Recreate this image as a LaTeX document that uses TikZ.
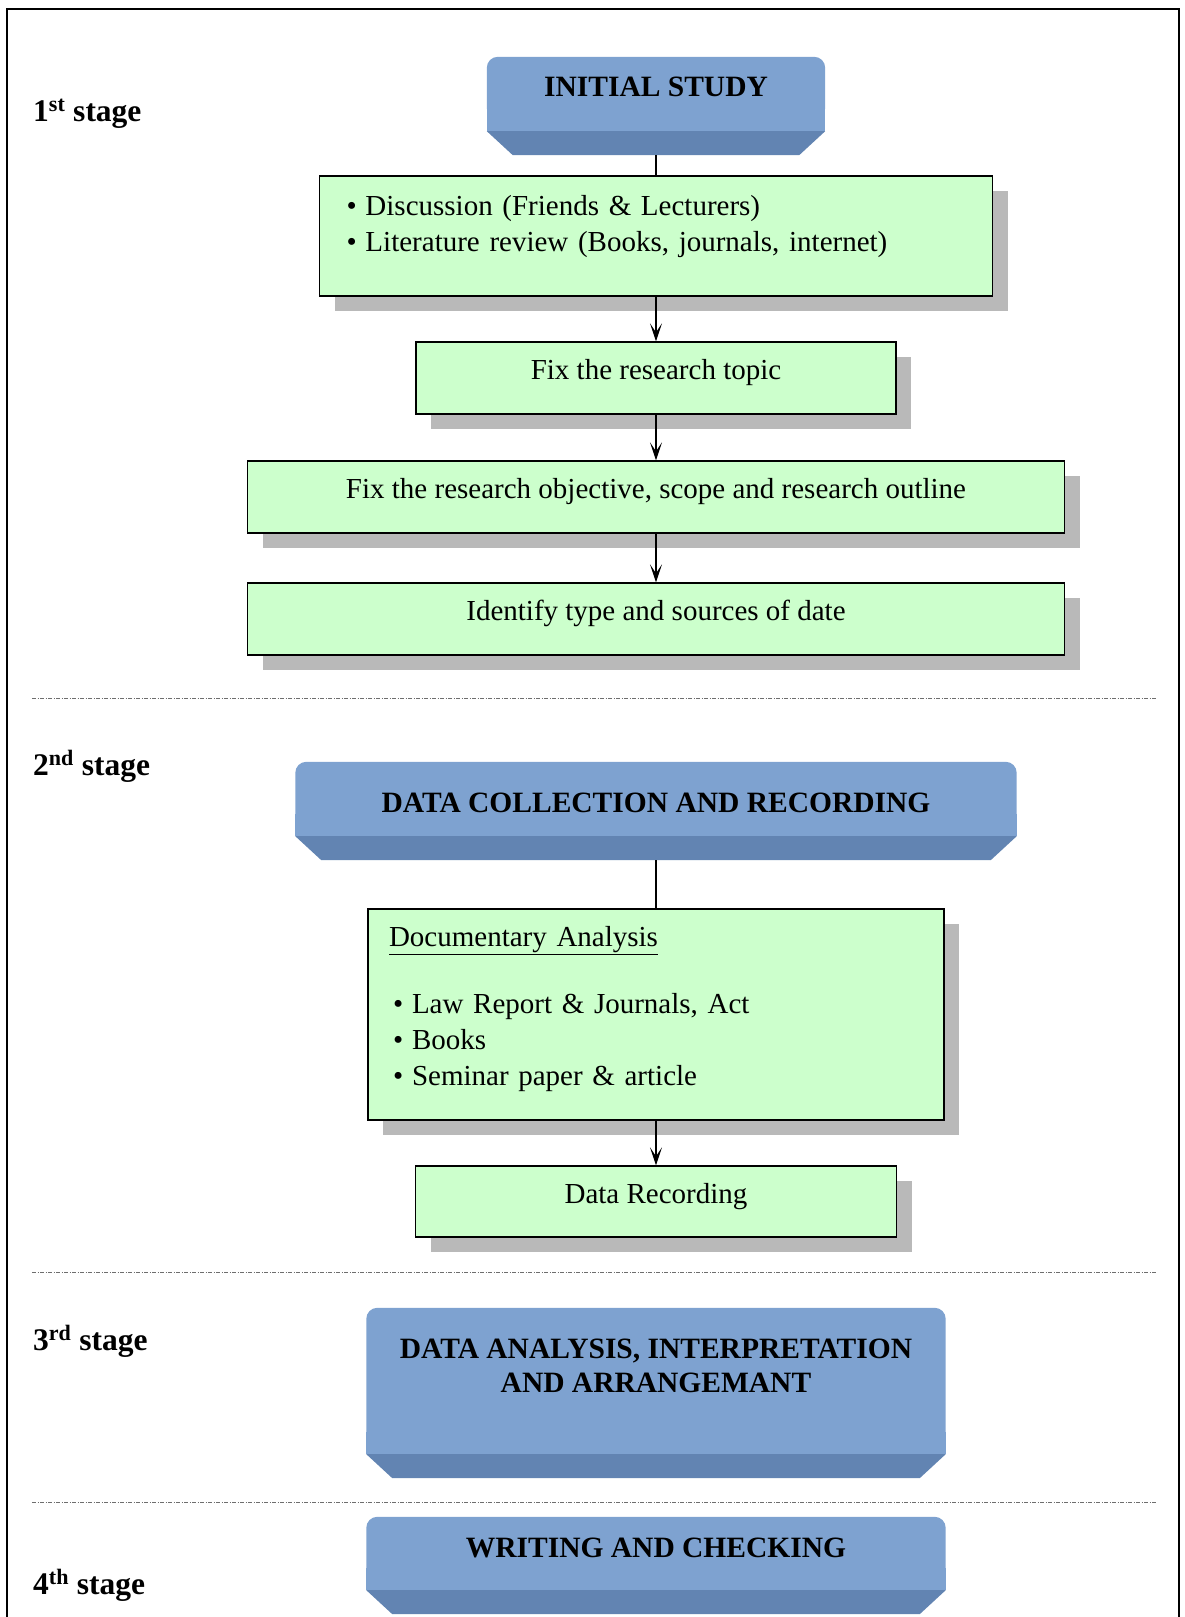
\documentclass[tikz,border=0pt]{standalone}
\usepackage{fontspec}
\setmainfont{Liberation Serif}
\usetikzlibrary{arrows.meta, shadows, backgrounds}
\definecolor{facefill}{HTML}{7EA2D0}
\definecolor{bevelfill}{HTML}{6284B2}
\definecolor{mint}{HTML}{CCFFCC}
\definecolor{shadowgray}{HTML}{B9B9B9}
\definecolor{rulegray}{HTML}{6E6E6E}
\newcommand{\bul}{\makebox[19pt][l]{\textbullet}}

\begin{document}
\begin{tikzpicture}[
    x=1pt, y=-1pt,
    stagelab/.style={anchor=base west, inner sep=0pt, font=\fontsize{31.5}{36}\selectfont\bfseries},
    phase/.style={inner sep=0pt, align=center, text height=19pt,
                  font=\fontsize{29.5}{34}\selectfont\bfseries},
    task/.style={draw=black, line width=1.3pt, fill=mint, inner sep=0pt, text height=18pt,
                 font=\fontsize{29}{36}\selectfont,
                 drop shadow={shadow xshift=15pt, shadow yshift=-15pt, fill=shadowgray, opacity=1}},
    flow/.style={-{Stealth[length=18pt,width=12pt,inset=9pt]}, line width=1.6pt},
    link/.style={line width=1.5pt},
    divider/.style={draw=rulegray, line width=0.9pt, dash pattern=on 4pt off 1.5pt on 1pt off 1.5pt}
]
\useasboundingbox (0,0) rectangle (1184,1617);

% frame and stage dividers
\draw[line width=2pt] (7,1617) -- (7,9) -- (1179,9) -- (1179,1617);
\foreach \y in {698,1272,1502}
    \draw[divider] (32,\y) -- (1157,\y);

% stage labels
\node[stagelab] (s1) at (33,121) {1\textsuperscript{st} stage};
\node[stagelab] (s2) at (33,775) {2\textsuperscript{nd} stage};
\node[stagelab] (s3) at (33,1350) {3\textsuperscript{rd} stage};
\node[stagelab] (s4) at (33,1594) {4\textsuperscript{th} stage};

% stage boxes
\node[phase, minimum width=338pt, minimum height=98pt, text depth=38pt] (init) at (656,106) {INITIAL STUDY};
\node[phase, minimum width=721pt, minimum height=98pt, text depth=16pt] (collect) at (656,811) {DATA COLLECTION AND RECORDING};
\node[phase, minimum width=579pt, minimum height=170pt, text depth=20pt] (analyse) at (656,1393) {DATA ANALYSIS, INTERPRETATION\\AND ARRANGEMANT};
\node[phase, minimum width=579pt, minimum height=97pt, text depth=35pt] (write) at (656,1565.5) {WRITING AND CHECKING};

\begin{scope}[on background layer]
\foreach \b in {init,collect,analyse,write} {
    \fill[facefill, rounded corners=11pt] (\b.north west) rectangle ([yshift=36pt]\b.south east);
    \fill[facefill] ([yshift=24pt]\b.south west) rectangle ([yshift=46pt]\b.south east);
    \fill[bevelfill] ([yshift=24pt]\b.south west) -- ([yshift=24pt]\b.south east)
        -- ([xshift=-26pt]\b.south east) -- ([xshift=26pt]\b.south west) -- cycle;
}
\end{scope}

% steps
\node[task, text width=619pt, inner xsep=27pt, minimum height=120pt, align=left, text depth=60pt] (review) at (656,236)
    {\bul Discussion (Friends \& Lecturers)\\ \bul Literature review (Books, journals, internet)};
\node[task, minimum width=480pt, minimum height=72pt, text depth=15pt] (topic) at (656,378) {Fix the research topic};
\node[task, minimum width=817pt, minimum height=72pt, text depth=15pt] (scope) at (656,497) {Fix the research objective, scope and research outline};
\node[task, minimum width=817pt, minimum height=72pt, text depth=15pt] (sources) at (656,619) {Identify type and sources of date};
\node[task, text width=534pt, inner xsep=21pt, minimum height=211pt, align=left, text depth=154pt] (docs) at (656,1014.5)
    {\underline{Documentary Analysis}\\[31pt]
     \hspace*{4pt}\bul Law Report \& Journals, Act\\
     \hspace*{4pt}\bul Books\\
     \hspace*{4pt}\bul Seminar paper \& article};
\node[task, minimum width=481pt, minimum height=71pt, text depth=15pt] (record) at (656,1201.5) {Data Recording};

% connectors
\draw[link] (init) -- (review);
\draw[flow] (review) -- (topic);
\draw[flow] (topic) -- (scope);
\draw[flow] (scope) -- (sources);
\draw[link] (collect) -- (docs);
\draw[flow] (docs) -- (record);

\end{tikzpicture}
\end{document}
